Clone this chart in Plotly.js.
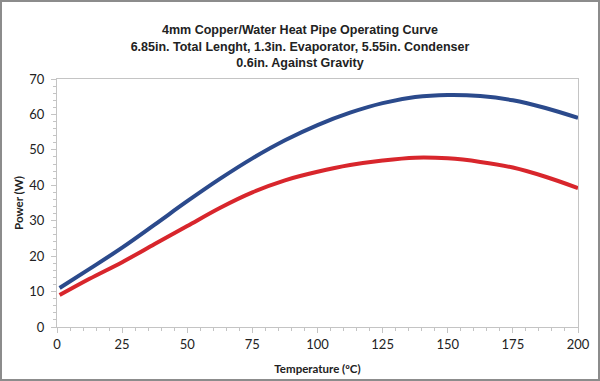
<!DOCTYPE html>
<html>
<head>
<meta charset="utf-8">
<script src="https://cdn.plot.ly/plotly-3.0.1.min.js"></script>
<style>
html,body{margin:0;padding:0;background:#fff;}
#wrap{position:relative;width:600px;height:381px;}
#chart{width:600px;height:381px;}
#frame{position:absolute;left:0;top:0;right:0;bottom:0;border:2px solid #8c8c8c;pointer-events:none;}
</style>
</head>
<body>
<div id="wrap"><div id="chart"></div><div id="frame"></div></div>
<script>
// Temperature (°C)
const temperature = [1, 12.5, 25, 37.5, 50, 62.5, 75, 87.5, 100, 112.5, 125, 137.5, 150, 162.5, 175, 187.5, 200];
// Upper curve (blue)
const powerBlue = [11, 16.4, 22.4, 28.9, 35.5, 41.8, 47.6, 52.7, 57.0, 60.5, 63.2, 64.9, 65.5, 65.2, 64.0, 61.8, 59.0];
// Lower curve (red)
const powerRed = [9, 13.6, 18.3, 23.4, 28.5, 33.6, 38.0, 41.4, 43.8, 45.7, 47.0, 47.8, 47.6, 46.6, 45.0, 42.4, 39.2];

const xTicks = [0, 25, 50, 75, 100, 125, 150, 175, 200];
const yTicks = [0, 10, 20, 30, 40, 50, 60, 70];

const font = 'Lato, "Open Sans", sans-serif';
const titleFont = '"Liberation Sans", Arial, sans-serif';

const traces = [
  {x: temperature, y: powerBlue, type: 'scatter', mode: 'lines', name: 'Blue',
   line: {color: '#2b4a8c', width: 4, shape: 'spline', smoothing: 1}},
  {x: temperature, y: powerRed, type: 'scatter', mode: 'lines', name: 'Red',
   line: {color: '#d8262c', width: 4, shape: 'spline', smoothing: 1}}
];

const layout = {
  width: 600, height: 381,
  margin: {l: 57, r: 22, t: 79, b: 54},
  paper_bgcolor: '#fff', plot_bgcolor: '#fff',
  showlegend: false,
  font: {family: font, color: '#222', size: 12},
  title: {
    text: '<b>4mm Copper/Water Heat Pipe Operating Curve<br>6.85in. Total Lenght, 1.3in. Evaporator, 5.55in. Condenser<br>0.6in. Against Gravity</b>',
    font: {family: titleFont, size: 12.5, color: '#222'},
    x: 0.5, xanchor: 'center', y: 0.91, yanchor: 'top'
  },
  xaxis: {
    range: [0, 200], tickvals: xTicks, ticktext: xTicks.map(String),
    showgrid: false, zeroline: false,
    showline: true, linecolor: '#c4c4c4', linewidth: 1, mirror: true,
    ticks: 'outside', ticklen: 5, tickcolor: '#c4c4c4',
    minor: {dtick: 5, ticks: 'outside', ticklen: 3, tickcolor: '#c4c4c4', showgrid: false},
    tickfont: {family: font, size: 13, color: '#222'},
    title: {text: '<b>Temperature (ºC)</b>', font: {family: font, size: 11.5, color: '#222'}, standoff: 14}
  },
  yaxis: {
    range: [0, 70], tickvals: yTicks, ticktext: yTicks.map(String),
    showgrid: false, zeroline: false,
    showline: true, linecolor: '#c4c4c4', linewidth: 1, mirror: true,
    ticks: 'outside', ticklen: 5, tickcolor: '#c4c4c4', ticklabelstandoff: 4,
    minor: {dtick: 2, ticks: 'outside', ticklen: 3, tickcolor: '#c4c4c4', showgrid: false},
    tickfont: {family: font, size: 13, color: '#222'},
    title: {text: '<b>Power (W)</b>', font: {family: font, size: 11.5, color: '#222'}, standoff: 3}
  }
};

Plotly.newPlot('chart', traces, layout, {displayModeBar: false, staticPlot: true});
</script>
</body>
</html>
